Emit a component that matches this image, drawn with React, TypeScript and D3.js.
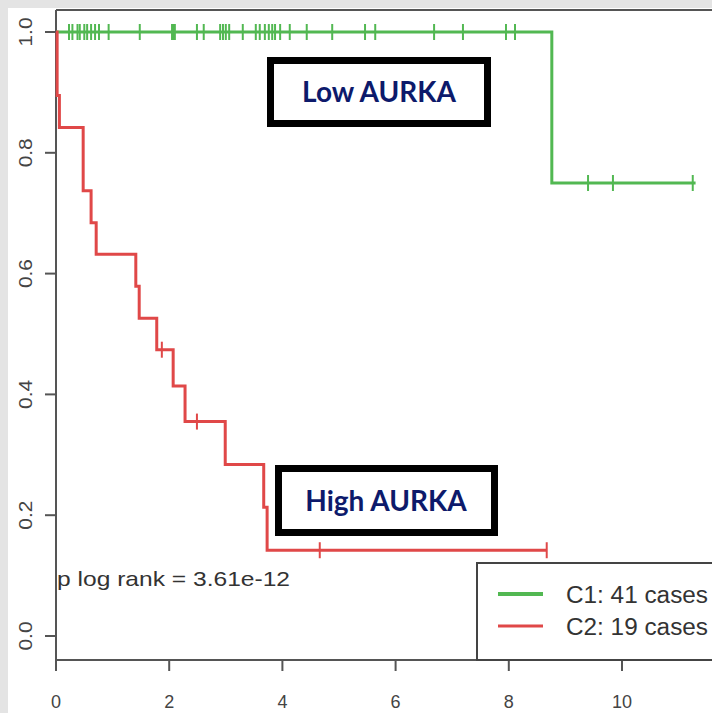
import React from "react";
import * as d3 from "d3";

const xTicks = [0, 2, 4, 6, 8, 10];
const yTicks = [0, 0.2, 0.4, 0.6, 0.8, 1.0];

const greenEventTimes = [8.76];
const greenEventSurv = [0.75];
const greenEnd = 11.3;
const greenCensorTimes = [
  0.23, 0.29, 0.38, 0.42, 0.55, 0.62, 0.69, 0.76, 0.93, 1.48, 2.05, 2.08, 2.1,
  2.49, 2.61, 2.9, 2.95, 3.0, 3.06, 3.3, 3.53, 3.6, 3.69, 3.76, 3.82, 3.87, 3.96,
  4.13, 4.43, 4.88, 5.46, 5.64, 6.68, 7.19, 7.95, 8.11, 0.5, 9.4, 9.84, 11.25,
];

const redEventTimes = [0.02, 0.06, 0.48, 0.62, 0.71, 1.41, 1.47, 1.78, 2.07, 2.28, 2.99, 3.67, 3.73];
const redEventSurv = [0.895, 0.842, 0.737, 0.684, 0.632, 0.579, 0.526, 0.474, 0.414, 0.355, 0.284, 0.213, 0.142];
const redEnd = 8.67;
const redCensorTimes = [1.87, 2.49, 4.66, 8.67];

const legendLabels = ["C1: 41 cases", "C2: 19 cases"];
const pText = "p log rank = 3.61e-12";

const GREEN = "#52b852";
const RED = "#e04848";

export default function App() {
  const x = d3.scaleLinear().domain([0, 10]).range([56, 622]);
  const y = d3.scaleLinear().domain([0, 1]).range([636, 32]);

  const stepPts = (times: number[], surv: number[], end: number) => {
    const pts: [number, number][] = [[0, 1]];
    times.forEach((t, i) => pts.push([t, surv[i]]));
    pts.push([end, surv[surv.length - 1]]);
    return pts;
  };
  const survAt = (times: number[], surv: number[], t: number) => {
    let s = 1;
    times.forEach((tt, i) => {
      if (tt <= t) s = surv[i];
    });
    return s;
  };
  const line = d3
    .line<[number, number]>()
    .x((d) => x(d[0]))
    .y((d) => y(d[1]))
    .curve(d3.curveStepAfter);

  const curves = [
    { color: GREEN, times: greenEventTimes, surv: greenEventSurv, end: greenEnd, censor: greenCensorTimes },
    { color: RED, times: redEventTimes, surv: redEventSurv, end: redEnd, censor: redCensorTimes },
  ];

  const axisColor = "#555";
  const font = "'Liberation Sans', Arial, sans-serif";
  const boxFont = "Lato, 'Open Sans', sans-serif";

  return (
    <svg width={712} height={713} style={{ position: "absolute", left: 0, top: 0 }}>
      <rect x={0} y={0} width={712} height={713} fill="#fff" />
      <rect x={0} y={0} width={712} height={8} fill="#e4e4e4" />
      <rect x={0} y={0} width={8} height={713} fill="#e4e4e4" />
      {/* plot box */}
      <line x1={56} x2={720} y1={10} y2={10} stroke={axisColor} strokeWidth={2} />
      <line x1={56} x2={56} y1={10} y2={660} stroke={axisColor} strokeWidth={2} />
      <line x1={56} x2={720} y1={660} y2={660} stroke={axisColor} strokeWidth={2} />
      {/* y ticks */}
      {yTicks.map((v) => (
        <g key={"y" + v}>
          <line x1={45} x2={56} y1={y(v)} y2={y(v)} stroke={axisColor} strokeWidth={2} />
          <text
            transform={`translate(32,${y(v)}) rotate(-90)`}
            textAnchor="middle"
            fontSize={18}
            fontFamily={font}
            fill="#444"
            textLength={29}
            lengthAdjust="spacingAndGlyphs"
          >
            {v.toFixed(1)}
          </text>
        </g>
      ))}
      {/* x ticks */}
      {xTicks.map((v) => (
        <g key={"x" + v}>
          <line x1={x(v)} x2={x(v)} y1={660} y2={671} stroke={axisColor} strokeWidth={2} />
          <text x={x(v)} y={708} textAnchor="middle" fontSize={18} fontFamily={font} fill="#444">
            {v}
          </text>
        </g>
      ))}
      {/* curves */}
      {curves.map((c, i) => (
        <g key={"c" + i}>
          <path d={line(stepPts(c.times, c.surv, c.end)) || ""} fill="none" stroke={c.color} strokeWidth={3} />
          {c.censor.map((t, j) => {
            const s = survAt(c.times, c.surv, t);
            return (
              <line
                key={j}
                x1={x(t)}
                x2={x(t)}
                y1={y(s) - 8}
                y2={y(s) + 8}
                stroke={c.color}
                strokeWidth={2}
              />
            );
          })}
        </g>
      ))}
      {/* label boxes */}
      <rect x={270.5} y={60.5} width={217} height={63} fill="#fff" stroke="#000" strokeWidth={7} />
      <text x={379} y={102} textAnchor="middle" fontSize={28} fontWeight="bold" fontFamily={boxFont} fill="#0d1a6b">
        Low AURKA
      </text>
      <rect x={278.5} y={468.5} width={216} height={64} fill="#fff" stroke="#000" strokeWidth={7} />
      <text x={386} y={511} textAnchor="middle" fontSize={28} fontWeight="bold" fontFamily={boxFont} fill="#0d1a6b">
        High AURKA
      </text>
      {/* p value */}
      <text x={57} y={586} fontSize={21} fontFamily={font} fill="#333" textLength={233} lengthAdjust="spacingAndGlyphs">
        {pText}
      </text>
      {/* legend */}
      <rect x={477} y={563} width={260} height={97} fill="#fff" stroke="#444" strokeWidth={2} />
      {legendLabels.map((lab, i) => (
        <g key={lab}>
          <line
            x1={498}
            x2={543}
            y1={594 + i * 32}
            y2={594 + i * 32}
            stroke={curves[i].color}
            strokeWidth={i === 0 ? 4 : 3}
          />
          <text
            x={566}
            y={603 + i * 32}
            fontSize={23}
            fontFamily={font}
            fill="#333"
            textLength={142}
            lengthAdjust="spacingAndGlyphs"
          >
            {lab}
          </text>
        </g>
      ))}
    </svg>
  );
}
